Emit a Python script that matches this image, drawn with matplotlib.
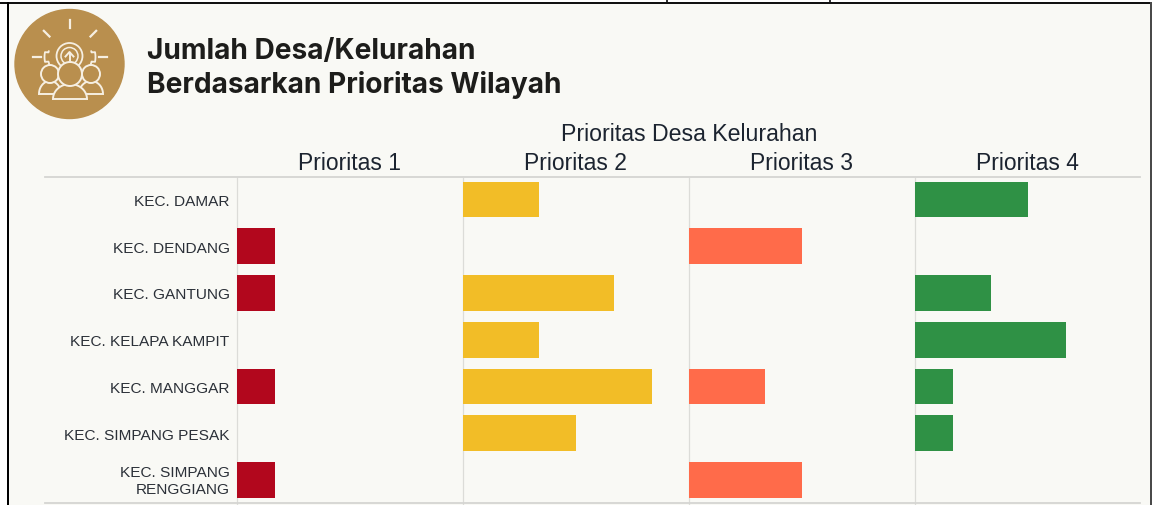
import numpy as np
import matplotlib
matplotlib.use('Agg')
import matplotlib.pyplot as plt
from matplotlib.patches import Circle, Polygon, Rectangle
from matplotlib.transforms import ScaledTranslation

W, H = 1152, 506
BG = '#f9f9f5'
GOLD = '#b98f4e'
CREAM = '#f6efe2'

kecamatan = ['KEC. DAMAR', 'KEC. DENDANG', 'KEC. GANTUNG', 'KEC. KELAPA KAMPIT',
             'KEC. MANGGAR', 'KEC. SIMPANG PESAK', 'KEC. SIMPANG\nRENGGIANG']
prioritas = ['Prioritas 1', 'Prioritas 2', 'Prioritas 3', 'Prioritas 4']
warna = ['#b2071d', '#f2bd27', '#ff6b4a', '#2f9145']

p1 = [0, 1, 1, 0, 1, 0, 1]
p2 = [2, 0, 4, 2, 5, 3, 0]
p3 = [0, 3, 0, 0, 2, 0, 3]
p4 = [3, 0, 2, 4, 1, 1, 0]
nilai = [p1, p2, p3, p4]

plt.rcParams['font.family'] = ['Liberation Sans', 'DejaVu Sans']

fig = plt.figure(figsize=(W / 100, H / 100), dpi=100, facecolor=BG)


def box(x0, y0, x1, y1):
    # pixel box (y from the top) to figure fractions
    return [x0 / W, 1 - y1 / H, (x1 - x0) / W, (y1 - y0) / H]


# panels
panel_x = [237.3, 463.3, 689.3, 915.3]
panel_w = 226
for i in range(4):
    ax = fig.add_axes(box(panel_x[i], 178, panel_x[i] + panel_w, 504.5))
    ax.set_facecolor('none')
    ax.barh(range(7), nilai[i], height=0.765, color=warna[i], zorder=3)
    ax.set_xlim(0, 6)
    ax.set_ylim(6.503, -0.481)
    ax.set_xticks([])
    for s in ['top', 'right', 'bottom']:
        ax.spines[s].set_visible(False)
    ax.spines['left'].set_color('#dcdcd8')
    ax.spines['left'].set_linewidth(0.9)
    ax.spines['left'].set_linestyle((0, (1, 1)))
    ax.spines['left'].set_zorder(1)
    ax.set_title(prioritas[i], fontsize=16.5, color='#1c2430', pad=5.5, x=0.497)
    if i == 0:
        ax.set_yticks(range(7))
        ax.set_yticklabels(kecamatan, fontsize=11.1, color='#2b3038',
                           linespacing=1.2, ha='right')
        ax.tick_params(axis='y', length=0, pad=5.5)
        # the two line label sits a little above its row
        lbl = ax.get_yticklabels()[6]
        lbl.set_transform(lbl.get_transform() + ScaledTranslation(0, 2 / 100, fig.dpi_scale_trans))
    else:
        ax.set_yticks([])

# header and footer rules
fig.add_artist(plt.Line2D([45 / W, 1140 / W], [1 - 177.5 / H] * 2, color='#d5d5d2', lw=1.3))
fig.add_artist(plt.Line2D([45 / W, 1140 / W], [1 - 504 / H] * 2, color='#d5d5d2', lw=1.3))

fig.text(689 / W, 1 - 134.5 / H, 'Prioritas Desa Kelurahan', fontsize=16.7, color='#1c2430',
         ha='center', va='center')
fig.text(147 / W, 1 - 51 / H, 'Jumlah Desa/Kelurahan', fontsize=20.2, fontweight='bold',
         family=['Inter', 'DejaVu Sans'], color='#1d1d1b', va='center')
fig.text(147 / W, 1 - 85 / H, 'Berdasarkan Prioritas Wilayah', fontsize=20.2, fontweight='bold',
         family=['Inter', 'DejaVu Sans'], color='#1d1d1b', va='center')

# logo, in its own pixel coordinates
lg = fig.add_axes(box(10, 8, 130, 124))
lg.set_xlim(10, 130)
lg.set_ylim(124, 8)
lg.axis('off')
lg.add_patch(Circle((69.5, 65), 54.5, color=GOLD))
for a in np.deg2rad([180, 225, 270, 315, 0]):
    lg.plot([70 + 29 * np.cos(a), 70 + 37 * np.cos(a)],
            [58 + 29 * np.sin(a), 58 + 37 * np.sin(a)], color=CREAM, lw=1.6)
# gear outline
ang = np.deg2rad(np.arange(165, 376, 1.0))
rad = 22 + 3.5 * (np.cos(8 * ang) > 0)
lg.plot(70 + rad * np.cos(ang), 58 - rad * np.sin(ang), color=CREAM, lw=1.3)
lg.add_patch(Circle((69.5, 57), 13, fill=False, ec=CREAM, lw=1.3))
lg.add_patch(Circle((69.5, 57), 8.5, fill=False, ec=CREAM, lw=1.1))
lg.plot([69.5, 69.5], [67, 54], color=CREAM, lw=1.4)
lg.plot([65.5, 69.5, 73.5], [57.5, 53, 57.5], color=CREAM, lw=1.4)
# three people, side ones first so the middle one sits on top
for cx, cy, r, bw, top, base, z in [(50, 75, 9, 11, 82, 95, 3), (91, 75, 9, 12, 82, 95, 3),
                                    (70, 75, 12, 17, 85, 100, 4)]:
    t = np.linspace(np.pi, 2 * np.pi, 30)
    xs = cx + bw * np.cos(t)
    ys = base + (base - top) * np.sin(t)
    lg.add_patch(Polygon(np.column_stack([xs, ys]), closed=True, fc=GOLD, ec=CREAM, lw=1.4, zorder=z))
    lg.add_patch(Circle((cx, cy), r, fc=GOLD, ec=CREAM, lw=1.4, zorder=z))

# screenshot frame
for x0, y0, x1, y1, c in [(0, 0, W, 3, '#ffffff'), (0, 0, 7, H, '#ffffff'),
                          (0, 3, W, 5, '#111111'), (7, 3, 9, H, '#000000'),
                          (1150, 3, W, H, '#4a4a4a'),
                          (666, 0, 668, 3, '#333333'), (829, 0, 831, 3, '#333333')]:
    fig.add_artist(Rectangle((x0 / W, 1 - y1 / H), (x1 - x0) / W, (y1 - y0) / H,
                             transform=fig.transFigure, color=c, lw=0))

fig.savefig('out.png', dpi=100, facecolor=fig.get_facecolor())
